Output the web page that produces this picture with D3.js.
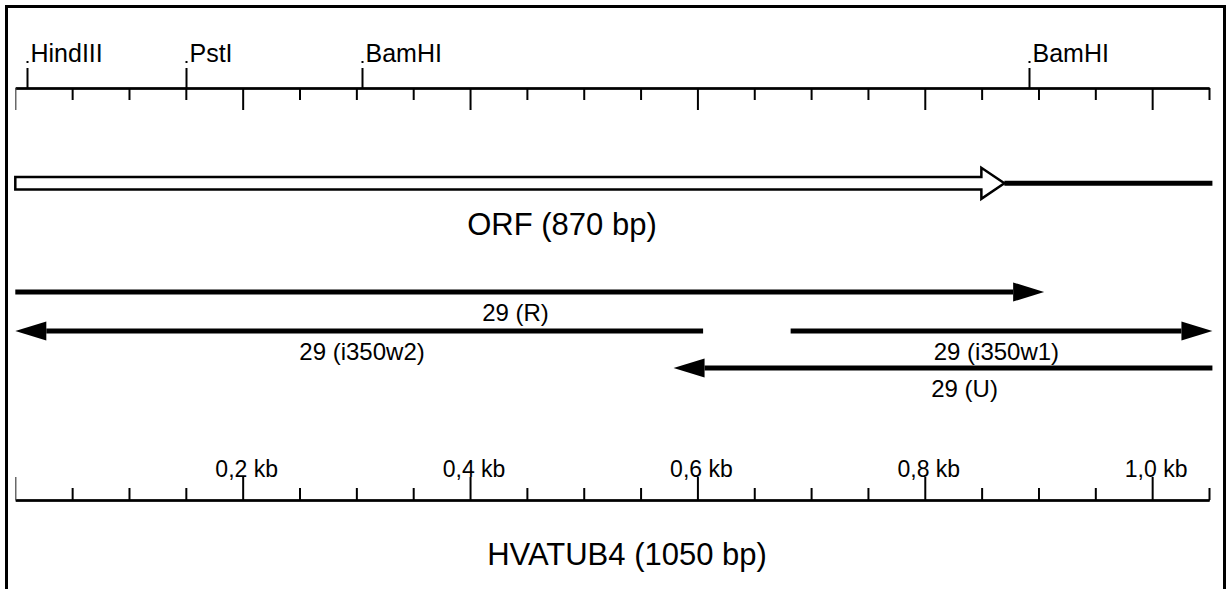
<!DOCTYPE html>
<html>
<head>
<meta charset="utf-8">
<script src="https://cdn.jsdelivr.net/npm/d3@7"></script>
<style>
  html, body { margin: 0; padding: 0; background: #fff; }
  svg { display: block; }
  text { font-family: "Liberation Sans", Arial, sans-serif; fill: #000; }
</style>
</head>
<body>
<svg id="chart" width="1227" height="589"></svg>
<script>
// ---- data ----
const geneLength = 1050;            // bp
const orfLength = 870;              // bp
const geneLabel = "HVATUB4 (1050 bp)";
const orfLabel = "ORF (870 bp)";

const siteNames = ["HindIII", "PstI", "BamHI", "BamHI"];
const sitePositions = [10, 150, 305, 892];

const minorTickValues = d3.range(50, 1051, 50).filter(v => v % 200 !== 0);
const majorTickValues = [200, 400, 600, 800, 1000];
const majorTickLabels = ["0,2 kb", "0,4 kb", "0,6 kb", "0,8 kb", "1,0 kb"];

const cloneNames = ["29 (R)", "29 (i350w2)", "29 (i350w1)", "29 (U)"];
const cloneStarts = [0, 0, 682, 579];
const cloneEnds = [905, 605, 1053, 1053];
const cloneDirections = ["right", "left", "right", "left"];
const cloneRows = [0, 1, 1, 2];
const cloneLabelCenters = [440, 305, 863, 835]; // bp position of label centre

// ---- layout ----
const svg = d3.select("#chart");
const x = d3.scaleLinear().domain([0, geneLength]).range([15.3, 1209]);

// frame
svg.append("rect")
  .attr("x", 6.5).attr("y", 6.5)
  .attr("width", 1218).attr("height", 620)
  .attr("fill", "none").attr("stroke", "#000").attr("stroke-width", 3);

function styleAxis(g, w) {
  g.selectAll("path.domain").attr("stroke", "#000").attr("stroke-width", w);
  g.selectAll(".tick line").attr("stroke", "#000").attr("stroke-width", 2);
  g.selectAll(".tick text").remove();
}

// ---- top restriction map scale ----
const topY = 88;
const gTopMinor = svg.append("g").attr("transform", `translate(0,${topY})`)
  .call(d3.axisBottom(x).tickValues(minorTickValues).tickSize(12).tickSizeOuter(0));
styleAxis(gTopMinor, 2);
const gTopMajor = svg.append("g").attr("transform", `translate(0,${topY})`)
  .call(d3.axisBottom(x).tickValues(majorTickValues).tickSize(22).tickSizeOuter(0));
styleAxis(gTopMajor, 2);
const gTopZero = svg.append("g").attr("transform", `translate(0,${topY})`)
  .call(d3.axisBottom(x).tickValues([0]).tickSize(22).tickSizeOuter(0));
styleAxis(gTopZero, 2);
gTopZero.selectAll(".tick line").attr("stroke", "#444").attr("stroke-width", 1.2);

// restriction sites
const sites = svg.append("g");
siteNames.forEach((name, i) => {
  const sx = Math.round(x(sitePositions[i])) + 0.5;
  sites.append("line")
    .attr("x1", sx).attr("x2", sx)
    .attr("y1", topY).attr("y2", topY - 20)
    .attr("stroke", "#000").attr("stroke-width", 2);
  sites.append("rect")
    .attr("x", sx - 1).attr("y", topY - 27)
    .attr("width", 2).attr("height", 2).attr("fill", "#000");
  sites.append("text")
    .attr("x", sx + 3).attr("y", topY - 26)
    .attr("font-size", 25)
    .text(name);
});

// ---- ORF arrow ----
const orfY = 183.3;
const shaftHalf = 6.3, headHalf = 15.5, headLen = 23;
const orfTip = x(orfLength);
svg.append("path")
  .attr("d", d3.line()([
    [x(0), orfY - shaftHalf],
    [orfTip - headLen, orfY - shaftHalf],
    [orfTip - headLen, orfY - headHalf],
    [orfTip, orfY],
    [orfTip - headLen, orfY + headHalf],
    [orfTip - headLen, orfY + shaftHalf],
    [x(0), orfY + shaftHalf]
  ]) + "Z")
  .attr("fill", "#fff").attr("stroke", "#000").attr("stroke-width", 2.5)
  .attr("stroke-linejoin", "miter");
svg.append("line")
  .attr("x1", orfTip).attr("x2", x(1053))
  .attr("y1", orfY).attr("y2", orfY)
  .attr("stroke", "#000").attr("stroke-width", 5);
svg.append("text")
  .attr("x", 562).attr("y", 235)
  .attr("text-anchor", "middle").attr("font-size", 31)
  .text(orfLabel);

// ---- clone arrows ----
const rowY = [292, 331, 368];
const labelY = [321, 360, 397];
const arrowLen = 31, arrowHalf = 9.5;
const clones = svg.append("g");
cloneNames.forEach((name, i) => {
  const y = rowY[cloneRows[i]];
  const x0 = x(cloneStarts[i]), x1 = x(cloneEnds[i]);
  let tip, base, tail;
  if (cloneDirections[i] === "right") { tip = x1; base = x1 - arrowLen; tail = x0; }
  else { tip = x0; base = x0 + arrowLen; tail = x1; }
  clones.append("line")
    .attr("x1", tail).attr("x2", base)
    .attr("y1", y).attr("y2", y)
    .attr("stroke", "#000").attr("stroke-width", 5);
  clones.append("path")
    .attr("d", d3.line()([[base, y - arrowHalf], [tip, y], [base, y + arrowHalf]]) + "Z")
    .attr("fill", "#000");
  clones.append("text")
    .attr("x", x(cloneLabelCenters[i])).attr("y", labelY[cloneRows[i]])
    .attr("text-anchor", "middle").attr("font-size", 24)
    .text(name);
});

// ---- bottom kb scale ----
const botY = 500;
const gBotMinor = svg.append("g").attr("transform", `translate(0,${botY})`)
  .call(d3.axisTop(x).tickValues(minorTickValues).tickSize(12).tickSizeOuter(0));
styleAxis(gBotMinor, 2);
const gBotMajor = svg.append("g").attr("transform", `translate(0,${botY})`)
  .call(d3.axisTop(x).tickValues(majorTickValues).tickSize(23).tickSizeOuter(0)
    .tickFormat((d, i) => majorTickLabels[i]));
gBotMajor.selectAll("path.domain").attr("stroke", "#000").attr("stroke-width", 2);
gBotMajor.selectAll(".tick line").attr("stroke", "#000").attr("stroke-width", 2);
gBotMajor.selectAll(".tick text")
  .attr("y", -23).attr("dy", "0em").attr("dx", 3.5)
  .attr("font-size", 23).attr("font-family", "'Liberation Sans', Arial, sans-serif")
  .attr("fill", "#000");
const gBotZero = svg.append("g").attr("transform", `translate(0,${botY})`)
  .call(d3.axisTop(x).tickValues([0]).tickSize(23).tickSizeOuter(0));
styleAxis(gBotZero, 2);
gBotZero.selectAll(".tick line").attr("stroke", "#444").attr("stroke-width", 1.2);

svg.append("text")
  .attr("x", 627).attr("y", 565)
  .attr("text-anchor", "middle").attr("font-size", 31)
  .text(geneLabel);
</script>
</body>
</html>
